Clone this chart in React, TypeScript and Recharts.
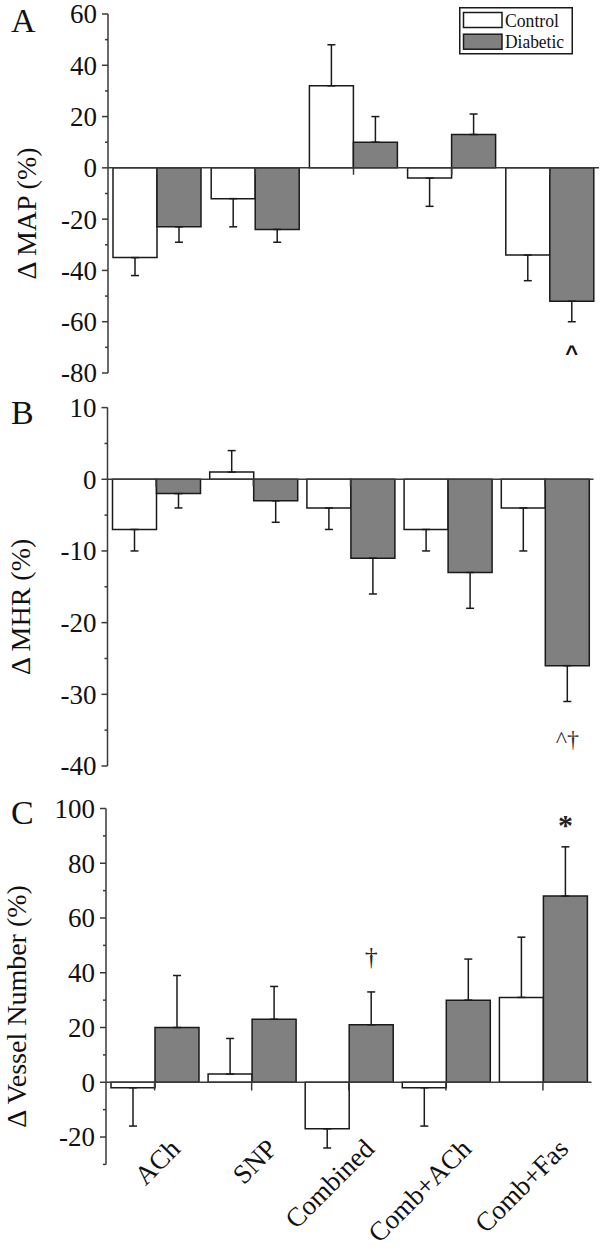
import React from "react";
import { BarChart, Bar, XAxis, YAxis, ErrorBar, ReferenceLine, LabelList, Legend } from "recharts";

const categories = ["ACh", "SNP", "Combined", "Comb+ACh", "Comb+Fas"];

// panel A: change in mean arterial pressure
const mapControl = [-35, -12, 32, -4, -34];
const mapControlErr = [7, 11, 16, 11, 10];
const mapDiabetic = [-23, -24, 10, 13, -52];
const mapDiabeticErr = [6, 5, 10, 8, 8];
const mapNotes = ["", "", "", "", "^"];
const mapMajor = [-80, -60, -40, -20, 0, 20, 40, 60];
const mapMinor = [-70, -50, -30, -10, 10, 30, 50];

// panel B: change in mean heart rate
const mhrControl = [-7, 1, -4, -7, -4];
const mhrControlErr = [3, 3, 3, 3, 6];
const mhrDiabetic = [-2, -3, -11, -13, -26];
const mhrDiabeticErr = [2, 3, 5, 5, 5];
const mhrNotes = ["", "", "", "", "^†"];
const mhrMajor = [-40, -30, -20, -10, 0, 10];
const mhrMinor = [-35, -25, -15, -5, 5];

// panel C: change in vessel number
const vesControl = [-2, 3, -17, -2, 31];
const vesControlErr = [14, 13, 7, 14, 22];
const vesDiabetic = [20, 23, 21, 30, 68];
const vesDiabeticErr = [19, 12, 12, 15, 18];
const vesNotes = ["", "", "†", "", "*"];
const vesMajor = [-20, 0, 20, 40, 60, 80, 100];
const vesMinor = [-30, -10, 10, 30, 50, 70, 90];

const SERIF = "'Liberation Serif', 'Times New Roman', serif";
const INK = "#1a1a1a";
const AXIS = "#3a3a3a";
const GREY = "#808080";
const TICK_SIZE = 6;
const TICK_MARGIN = 5;

// error bars only go away from zero
const oneSided = (v: number, e: number) => (v < 0 ? [e, 0] : [0, e]);

const buildRows = (c: number[], ce: number[], d: number[], de: number[], notes: string[]) =>
  categories.map((name, i) => ({
    name,
    control: c[i],
    diabetic: d[i],
    controlErr: oneSided(c[i], ce[i]),
    diabeticErr: oneSided(d[i], de[i]),
    note: notes[i],
  }));

const rowsA = buildRows(mapControl, mapControlErr, mapDiabetic, mapDiabeticErr, mapNotes);
const rowsB = buildRows(mhrControl, mhrControlErr, mhrDiabetic, mhrDiabeticErr, mhrNotes);
const rowsC = buildRows(vesControl, vesControlErr, vesDiabetic, vesDiabeticErr, vesNotes);

const makeYTick = (majors: number[]) => (props: any) => {
  const { x, y, payload } = props;
  const axisX = x + TICK_SIZE + TICK_MARGIN;
  const major = majors.includes(payload.value);
  return (
    <g>
      <line x1={axisX - (major ? 6 : 3)} x2={axisX} y1={y} y2={y} stroke={AXIS} strokeWidth={1.5} />
      {major && (
        <text x={x} y={y} dy="0.35em" textAnchor="end" fontFamily={SERIF} fontSize={27} fill="#111">
          {payload.value}
        </text>
      )}
    </g>
  );
};

const makeYLabel = (text: string, cx: number) => (props: any) => {
  const vb = props.viewBox;
  const cy = vb.y + vb.height / 2 + 20;
  return (
    <text
      x={cx}
      y={cy}
      dy="0.35em"
      transform={`rotate(-90, ${cx}, ${cy})`}
      textAnchor="middle"
      fontFamily={SERIF}
      fontSize={28}
      fill="#111"
    >
      {text}
    </text>
  );
};

const noteStyle: Record<string, { dy: number; size: number; weight: number; font: string; color: string }> = {
  "^": { dy: 52, size: 22, weight: 700, font: "'Liberation Sans', Arial, sans-serif", color: "#111" },
  "^†": { dy: 73, size: 24, weight: 400, font: SERIF, color: "#333" },
  "†": { dy: -69, size: 26, weight: 400, font: SERIF, color: "#222" },
  "*": { dy: -72, size: 30, weight: 700, font: SERIF, color: "#222" },
};

const renderNote = (props: any) => {
  const { value } = props;
  if (!value) return null;
  const vb = props.viewBox ?? props;
  const s = noteStyle[value];
  const cx = vb.x + vb.width / 2;
  const end = s.dy > 0 ? Math.max(vb.y, vb.y + vb.height) : Math.min(vb.y, vb.y + vb.height);
  return (
    <text
      x={cx}
      y={end + s.dy}
      dy="0.35em"
      textAnchor="middle"
      fontFamily={s.font}
      fontSize={s.size}
      fontWeight={s.weight}
      fill={s.color}
    >
      {value}
    </text>
  );
};

const renderLegend = (props: any) => {
  const items = props.payload ?? [];
  return (
    <svg width={115} height={48} style={{ display: "block" }}>
      <rect x={0.75} y={0.75} width={112.5} height={46} fill="#fff" stroke={INK} strokeWidth={1.5} />
      {items.map((it: any, i: number) => (
        <g key={it.value}>
          <rect x={4.5} y={5.5 + i * 21.7} width={38.5} height={15} fill={it.color} stroke={INK} strokeWidth={1.5} />
          <text
            x={46}
            y={19.5 + i * 21}
            fontFamily={SERIF}
            fontSize={18}
            textLength={i === 0 ? 54 : 59}
            lengthAdjust="spacingAndGlyphs"
            fill="#111"
          >
            {it.value}
          </text>
        </g>
      ))}
    </svg>
  );
};

const XTick = (props: any) => {
  const { x, y, payload } = props;
  return (
    <g transform={`translate(${x + 27}, ${y - 14})`}>
      <text x={0} y={0} transform="rotate(-45)" textAnchor="end" fontFamily={SERIF} fontSize={27} fill="#111">
        {payload.value}
      </text>
    </g>
  );
};

type PanelProps = {
  rows: any[];
  domain: [number, number];
  majors: number[];
  minors: number[];
  label: string;
  labelX: number;
  height: number;
  margin: { top: number; right: number; bottom: number; left: number };
  axisWidth: number;
  tickDrop: number;
  showX?: boolean;
  legend?: boolean;
};

const Panel = ({ rows, domain, majors, minors, label, labelX, height, margin, axisWidth, tickDrop, showX, legend }: PanelProps) => {
  const ticks = [...majors, ...minors].sort((a, b) => a - b);
  return (
    <BarChart width={600} height={height} data={rows} margin={margin} barCategoryGap={5} barGap={0}>
      <XAxis
        dataKey="name"
        hide={!showX}
        axisLine={false}
        tickLine={false}
        tickSize={0}
        tickMargin={0}
        height={showX ? 80 : 0}
        interval={0}
        tick={<XTick />}
      />
      <YAxis
        domain={domain}
        ticks={ticks}
        interval={0}
        width={axisWidth}
        tickSize={TICK_SIZE}
        tickMargin={TICK_MARGIN}
        tickLine={false}
        axisLine={{ stroke: AXIS, strokeWidth: 1.5 }}
        tick={makeYTick(majors)}
        label={makeYLabel(label, labelX)}
      />
      {categories.map((c) => (
        <ReferenceLine
          key={c}
          segment={[
            { x: c, y: 0 },
            { x: c, y: -tickDrop },
          ]}
          stroke={AXIS}
          strokeWidth={1.5}
        />
      ))}
      <ReferenceLine y={0} stroke={AXIS} strokeWidth={1.5} />
      <Bar dataKey="control" name="Control" fill="#ffffff" stroke={INK} strokeWidth={1.5} isAnimationActive={false}>
        <ErrorBar dataKey="controlErr" width={4} stroke={INK} strokeWidth={1.5} direction="y" />
      </Bar>
      <Bar dataKey="diabetic" name="Diabetic" fill={GREY} stroke={INK} strokeWidth={1.5} isAnimationActive={false}>
        <ErrorBar dataKey="diabeticErr" width={4} stroke={INK} strokeWidth={1.5} direction="y" />
        <LabelList dataKey="note" content={renderNote} />
      </Bar>
      {legend && (
        <Legend
          layout="horizontal"
          verticalAlign="middle"
          align="center"
          content={renderLegend}
          wrapperStyle={{ left: 459, top: 7, width: 115, height: 48 }}
        />
      )}
    </BarChart>
  );
};

const letters = [
  { t: "A", y: 32 },
  { t: "B", y: 424 },
  { t: "C", y: 824 },
];

export default function App() {
  return (
    <div style={{ position: "absolute", left: 0, top: 0, width: 600, height: 1247, background: "#fff" }}>
      <div style={{ position: "absolute", left: 0, top: 0 }}>
        <Panel
          rows={rowsA}
          domain={[-80, 60]}
          majors={mapMajor}
          minors={mapMinor}
          label="Δ MAP (%)"
          labelX={26}
          height={390}
          margin={{ top: 14, right: 1, bottom: 17, left: 0 }}
          axisWidth={108}
          tickDrop={2.7}
          legend
        />
      </div>
      <div style={{ position: "absolute", left: 0, top: 390 }}>
        <Panel
          rows={rowsB}
          domain={[-40, 10]}
          majors={mhrMajor}
          minors={mhrMinor}
          label="Δ MHR (%)"
          labelX={20}
          height={400}
          margin={{ top: 17.6, right: 6.5, bottom: 24, left: 0 }}
          axisWidth={107.5}
          tickDrop={1}
        />
      </div>
      <div style={{ position: "absolute", left: 0, top: 780 }}>
        <Panel
          rows={rowsC}
          domain={[-30, 100]}
          majors={vesMajor}
          minors={vesMinor}
          label="Δ Vessel Number (%)"
          labelX={16}
          height={467}
          margin={{ top: 28.5, right: 8.5, bottom: 2.6, left: 0 }}
          axisWidth={106}
          tickDrop={3}
          showX
        />
      </div>
      <svg width={600} height={1247} style={{ position: "absolute", left: 0, top: 0, pointerEvents: "none" }}>
        {letters.map((l) => (
          <text key={l.t} x={11} y={l.y} fontFamily={SERIF} fontSize={34} fill="#111">
            {l.t}
          </text>
        ))}
      </svg>
    </div>
  );
}
